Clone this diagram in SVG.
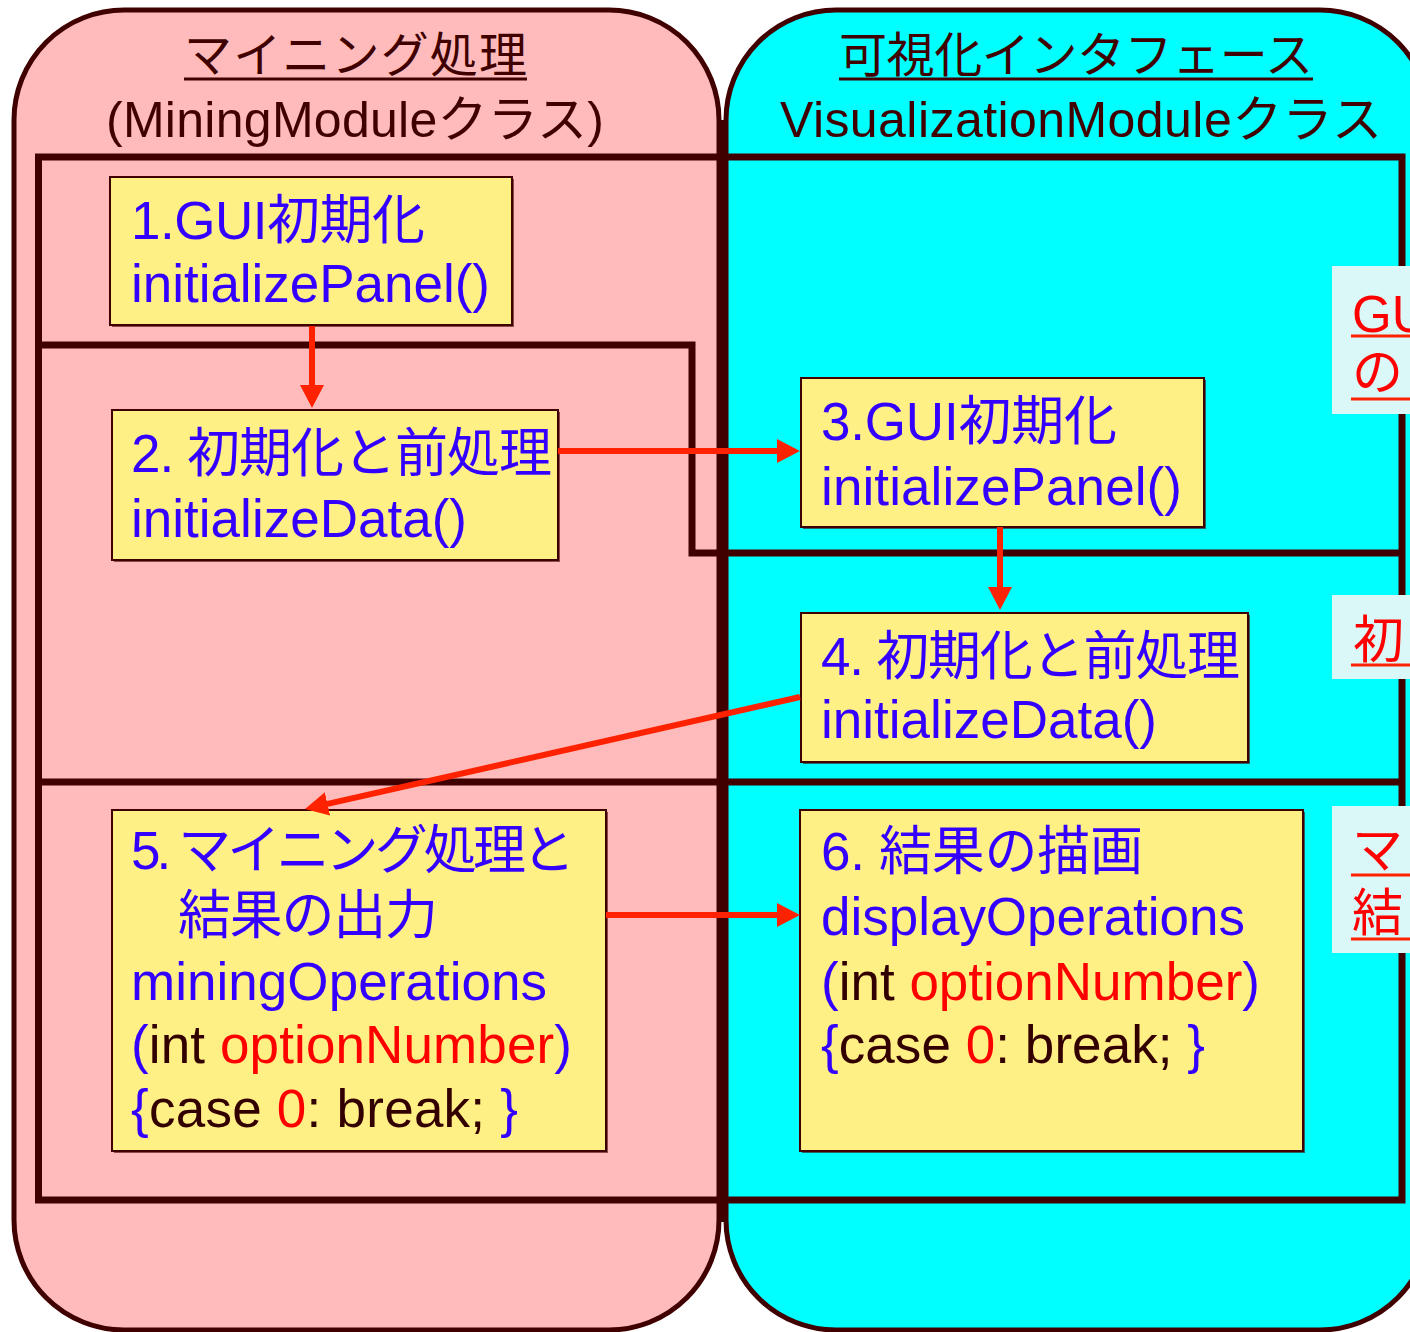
<svg xmlns="http://www.w3.org/2000/svg" width="1410" height="1332" viewBox="0 0 1410 1332">
<style>
.lane{stroke:#400000;stroke-width:5}
.frame{fill:none;stroke:#400000;stroke-width:7}
.box{fill:#FFF085;stroke:#400000;stroke-width:2}
.shadow{fill:#400000;opacity:0.6}
.t{font-family:"Liberation Sans","Noto Sans CJK JP",sans-serif;font-size:53px;fill:#3300FF}
.h{font-family:"Liberation Sans","Noto Sans CJK JP",sans-serif;fill:#400000}
.lab{font-family:"Liberation Sans","Noto Sans CJK JP",sans-serif;font-size:51px;fill:#FF0000}
.dk{fill:#330000}
.rd{fill:#FF0000}
.conn{stroke:#FF2200;stroke-width:6;fill:none}
.ul{stroke:#400000;stroke-width:3}
.rul{stroke:#FF2200;stroke-width:3}
.lbox{fill:#DAF8F8}
</style>
<defs>
<marker id="ah" markerUnits="userSpaceOnUse" markerWidth="26" markerHeight="26" viewBox="0 -13 26 26" refX="1" refY="0" orient="auto">
<path d="M0,-12 L23,0 L0,12 z" fill="#FF2200"/>
</marker>
</defs>
<g id="lanes">
<rect class="lane" x="14" y="10" width="705" height="1320" rx="110" ry="110" fill="#FFBBBB"/>
<rect class="lane" x="726" y="10" width="704" height="1320" rx="110" ry="110" fill="#00FFFF"/>
<line x1="722.5" y1="120" x2="722.5" y2="1222" stroke="#400000" stroke-width="11"/>
</g>
<g id="headers">
<text class="h" x="184" y="72" font-size="48" textLength="343">マイニング処理</text>
<line class="ul" x1="184" y1="79" x2="527" y2="79"/>
<text class="h" x="106" y="137" font-size="50" textLength="498">(MiningModuleクラス)</text>
<text class="h" x="839" y="72" font-size="48" textLength="474">可視化インタフェース</text>
<line class="ul" x1="839" y1="79" x2="1313" y2="79"/>
<text class="h" x="780" y="137" font-size="50" textLength="602">VisualizationModuleクラス</text>
</g>
<g id="frame">
<rect class="frame" x="38.5" y="157" width="1363.5" height="1043"/>
<polyline class="frame" points="38,345 692,345 692,553 1402,553"/>
<line class="frame" x1="38" y1="782" x2="1402" y2="782"/>
</g>
<g id="labels">
<rect class="lbox" x="1332" y="266" width="90" height="148"/>
<text class="lab" x="1352" y="332">GU</text>
<line class="rul" x1="1351" y1="336" x2="1410" y2="336"/>
<text class="lab" x="1352" y="390">の</text>
<line class="rul" x1="1351" y1="399" x2="1410" y2="399"/>
<rect class="lbox" x="1332" y="595" width="90" height="84"/>
<text class="lab" x="1353" y="658">初</text>
<line class="rul" x1="1351" y1="665" x2="1410" y2="665"/>
<rect class="lbox" x="1332" y="806" width="90" height="147"/>
<text class="lab" x="1352" y="868">マ</text>
<line class="rul" x1="1351" y1="875" x2="1410" y2="875"/>
<text class="lab" x="1352" y="931">結</text>
<line class="rul" x1="1351" y1="939" x2="1410" y2="939"/>
</g>
<g id="node1">
<rect class="shadow" x="112" y="179" width="402" height="148"/>
<rect class="box" x="110" y="177" width="402" height="148"/>
<text class="t" x="131" y="239" textLength="294">1.GUI初期化</text>
<text class="t" x="131" y="302" textLength="359">initializePanel()</text>
</g>
<g id="node2">
<rect class="shadow" x="114" y="412" width="446" height="150"/>
<rect class="box" x="112" y="410" width="446" height="150"/>
<text class="t" x="131" y="472" textLength="421">2. 初期化と前処理</text>
<text class="t" x="131" y="537" textLength="336">initializeData()</text>
</g>
<g id="node3">
<rect class="shadow" x="803" y="380" width="403" height="149"/>
<rect class="box" x="801" y="378" width="403" height="149"/>
<text class="t" x="821" y="440" textLength="296">3.GUI初期化</text>
<text class="t" x="821" y="505" textLength="361">initializePanel()</text>
</g>
<g id="node4">
<rect class="shadow" x="803" y="615" width="447" height="149"/>
<rect class="box" x="801" y="613" width="447" height="149"/>
<text class="t" x="821" y="675" textLength="419">4. 初期化と前処理</text>
<text class="t" x="821" y="738" textLength="336">initializeData()</text>
</g>
<g id="node5">
<rect class="shadow" x="114" y="812" width="494" height="341"/>
<rect class="box" x="112" y="810" width="494" height="341"/>
<text class="t" x="131" y="869" textLength="444">5. マイニング処理と</text>
<text class="t" x="178" y="934" textLength="260">結果の出力</text>
<text class="t" x="131" y="1000" textLength="416">miningOperations</text>
<text class="t" x="131" y="1063" textLength="441">(<tspan class="dk">int </tspan><tspan class="rd">optionNumber</tspan>)</text>
<text class="t" x="131" y="1127" textLength="387">{<tspan class="dk">case </tspan><tspan class="rd">0</tspan><tspan class="dk">: break; </tspan>}</text>
</g>
<g id="node6">
<rect class="shadow" x="802" y="812" width="503" height="341"/>
<rect class="box" x="800" y="810" width="503" height="341"/>
<text class="t" x="821" y="870" textLength="322">6. 結果の描画</text>
<text class="t" x="821" y="935" textLength="424">displayOperations</text>
<text class="t" x="821" y="1000" textLength="439">(<tspan class="dk">int </tspan><tspan class="rd">optionNumber</tspan>)</text>
<text class="t" x="821" y="1063" textLength="384">{<tspan class="dk">case </tspan><tspan class="rd">0</tspan><tspan class="dk">: break; </tspan>}</text>
</g>
<g id="connectors">
<line class="conn" x1="312" y1="326" x2="312" y2="386" marker-end="url(#ah)"/>
<line class="conn" x1="558" y1="451" x2="778" y2="451" marker-end="url(#ah)"/>
<line class="conn" x1="1000" y1="527" x2="1000" y2="588" marker-end="url(#ah)"/>
<line class="conn" x1="800" y1="697" x2="326.5" y2="804.1" marker-end="url(#ah)"/>
<line class="conn" x1="606" y1="915" x2="778" y2="915" marker-end="url(#ah)"/>
</g>
</svg>
